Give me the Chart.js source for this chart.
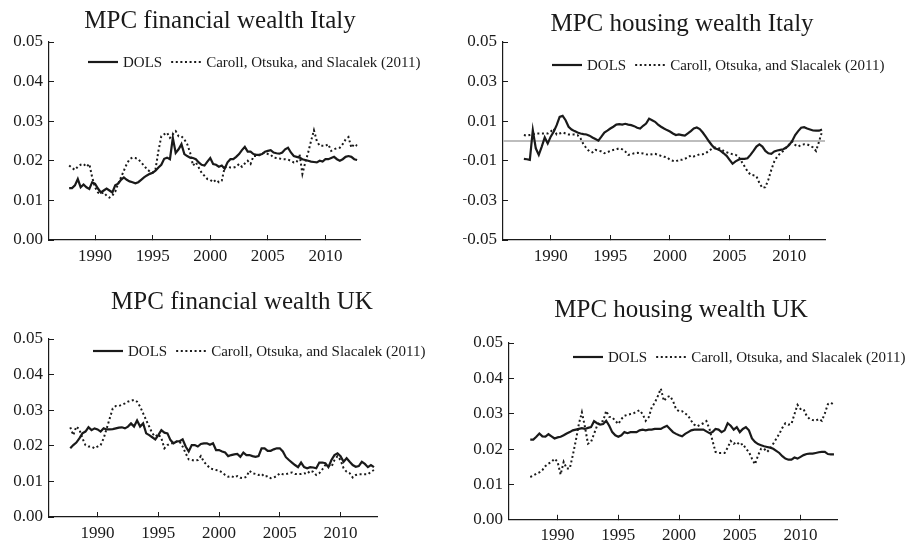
<!DOCTYPE html>
<html>
<head>
<meta charset="utf-8">
<script src="https://cdn.jsdelivr.net/npm/chart.js@4.4.0/dist/chart.umd.min.js"></script>
<style>
  body { margin: 0; background: #fff; width: 907px; height: 541px; position: relative; overflow: hidden; }
  canvas { position: absolute; }
</style>
</head>
<body>
<canvas id="finItaly" width="450" height="270" style="left:0;top:0"></canvas>
<canvas id="houseItaly" width="457" height="270" style="left:450px;top:0"></canvas>
<canvas id="finUk" width="450" height="271" style="left:0;top:270px"></canvas>
<canvas id="houseUk" width="457" height="271" style="left:450px;top:270px"></canvas>
<script>
// quarterly observations, 1987Q4 .. 2012Q4
const firstQuarter = 1987.75;
const quarterCount = 101;
const quarters = Array.from({ length: quarterCount }, (_, i) => firstQuarter + i / 4);

const yearTicks = [1990, 1995, 2000, 2005, 2010];
const shareTicks = [0, 0.01, 0.02, 0.03, 0.04, 0.05];
const housingItalyTicks = [-0.05, -0.03, -0.01, 0.01, 0.03, 0.05];
const seriesLabels = ['DOLS', 'Caroll, Otsuka, and Slacalek (2011)'];

const finItalyDols = [0.0131,
  0.0131, 0.0138, 0.0154, 0.0133,  0.0140, 0.0133, 0.0129, 0.0146,  0.0142, 0.0130, 0.0120, 0.0125,
  0.0130, 0.0125, 0.0120, 0.0138,  0.0142, 0.0152, 0.0158, 0.0152,  0.0148, 0.0146, 0.0143, 0.0146,
  0.0152, 0.0158, 0.0163, 0.0167,  0.0170, 0.0175, 0.0183, 0.0190,  0.0205, 0.0208, 0.0204, 0.0258,
  0.0220, 0.0229, 0.0242, 0.0217,  0.0212, 0.0208, 0.0207, 0.0204,  0.0196, 0.0190, 0.0188, 0.0198,
  0.0207, 0.0192, 0.0190, 0.0185,  0.0188, 0.0180, 0.0196, 0.0204,  0.0204, 0.0210, 0.0217, 0.0227,
  0.0235, 0.0223, 0.0223, 0.0217,  0.0215, 0.0215, 0.0217, 0.0223,  0.0225, 0.0227, 0.0221, 0.0219,
  0.0218, 0.0221, 0.0229, 0.0233,  0.0221, 0.0212, 0.0210, 0.0208,  0.0204, 0.0202, 0.0200, 0.0198,
  0.0197, 0.0196, 0.0200, 0.0198,  0.0204, 0.0204, 0.0207, 0.0210,  0.0204, 0.0200, 0.0204, 0.0210,
  0.0212, 0.0210, 0.0204, 0.0202];
const finItalyCos = [0.0188,
  0.0182, 0.0177, 0.0185, 0.0190,  0.0192, 0.0185, 0.0192, 0.0158,  0.0133, 0.0120, 0.0117, 0.0120,
  0.0112, 0.0107, 0.0112, 0.0122,  0.0142, 0.0158, 0.0175, 0.0192,  0.0204, 0.0208, 0.0207, 0.0204,
  0.0196, 0.0188, 0.0179, 0.0173,  0.0170, 0.0179, 0.0225, 0.0262,  0.0267, 0.0271, 0.0258, 0.0267,
  0.0275, 0.0262, 0.0262, 0.0254,  0.0242, 0.0221, 0.0188, 0.0196,  0.0183, 0.0170, 0.0162, 0.0154,
  0.0152, 0.0146, 0.0152, 0.0146,  0.0150, 0.0183, 0.0185, 0.0183,  0.0183, 0.0185, 0.0192, 0.0185,
  0.0193, 0.0200, 0.0192, 0.0212,  0.0212, 0.0214, 0.0218, 0.0221,  0.0217, 0.0215, 0.0208, 0.0207,
  0.0206, 0.0204, 0.0204, 0.0203,  0.0200, 0.0196, 0.0196, 0.0217,  0.0167, 0.0196, 0.0221, 0.0250,
  0.0277, 0.0250, 0.0238, 0.0238,  0.0238, 0.0242, 0.0225, 0.0229,  0.0232, 0.0233, 0.0242, 0.0254,
  0.0260, 0.0233, 0.0242, 0.0238];

const houseItalyDols = [-0.0090,
  -0.0092, -0.0095, 0.0055, -0.0037,  -0.0070, -0.0028, 0.0018, -0.0012,  0.0022, 0.0047, 0.0080, 0.0122,
  0.0127, 0.0105, 0.0072, 0.0058,  0.0050, 0.0043, 0.0038, 0.0035,  0.0033, 0.0027, 0.0018, 0.0010,
  0.0002, 0.0022, 0.0043, 0.0052,  0.0063, 0.0072, 0.0083, 0.0085,  0.0083, 0.0087, 0.0083, 0.0080,
  0.0075, 0.0067, 0.0063, 0.0077,  0.0088, 0.0113, 0.0105, 0.0097,  0.0083, 0.0072, 0.0063, 0.0055,
  0.0048, 0.0038, 0.0030, 0.0033,  0.0030, 0.0027, 0.0038, 0.0050,  0.0063, 0.0068, 0.0060, 0.0043,
  0.0022, 0.0000, -0.0020, -0.0037,  -0.0042, -0.0050, -0.0062, -0.0075,  -0.0095, -0.0115, -0.0103, -0.0095,
  -0.0090, -0.0090, -0.0087, -0.0070,  -0.0050, -0.0028, -0.0017, -0.0028,  -0.0050, -0.0062, -0.0065, -0.0053,
  -0.0048, -0.0045, -0.0042, -0.0033,  -0.0020, 0.0000, 0.0030, 0.0050,  0.0067, 0.0070, 0.0063, 0.0058,
  0.0053, 0.0052, 0.0052, 0.0058];
const houseItalyCos = [0.0030,
  0.0027, 0.0030, 0.0033, 0.0038,  0.0038, 0.0038, 0.0038, 0.0038,  0.0047, 0.0063, 0.0033, 0.0038,
  0.0043, 0.0038, 0.0033, 0.0033,  0.0033, 0.0030, 0.0013, -0.0017,  -0.0037, -0.0053, -0.0058, -0.0045,
  -0.0048, -0.0053, -0.0062, -0.0057,  -0.0050, -0.0045, -0.0042, -0.0037,  -0.0042, -0.0053, -0.0070, -0.0067,
  -0.0062, -0.0060, -0.0062, -0.0063,  -0.0067, -0.0070, -0.0067, -0.0065,  -0.0070, -0.0075, -0.0080, -0.0082,
  -0.0095, -0.0100, -0.0103, -0.0095,  -0.0095, -0.0090, -0.0083, -0.0073,  -0.0078, -0.0073, -0.0067, -0.0067,
  -0.0062, -0.0050, -0.0040, -0.0033,  -0.0033, -0.0040, -0.0050, -0.0057,  -0.0062, -0.0067, -0.0070, -0.0078,
  -0.0103, -0.0128, -0.0153, -0.0170,  -0.0173, -0.0178, -0.0212, -0.0237,  -0.0233, -0.0195, -0.0145, -0.0103,
  -0.0078, -0.0062, -0.0050, -0.0033,  -0.0017, -0.0003, -0.0020, -0.0028,  -0.0020, -0.0017, -0.0017, -0.0023,
  -0.0033, -0.0050, -0.0003, 0.0047];

const finUkDols = [0.0193,
  0.0202, 0.0209, 0.0221, 0.0235,  0.0240, 0.0252, 0.0244, 0.0249,  0.0246, 0.0240, 0.0249, 0.0246,
  0.0246, 0.0247, 0.0249, 0.0251,  0.0252, 0.0249, 0.0254, 0.0263,  0.0254, 0.0271, 0.0254, 0.0263,
  0.0235, 0.0230, 0.0224, 0.0218,  0.0230, 0.0244, 0.0237, 0.0235,  0.0216, 0.0207, 0.0212, 0.0213,
  0.0218, 0.0198, 0.0184, 0.0202,  0.0202, 0.0198, 0.0205, 0.0207,  0.0207, 0.0203, 0.0207, 0.0188,
  0.0188, 0.0184, 0.0181, 0.0171,  0.0174, 0.0176, 0.0177, 0.0169,  0.0181, 0.0174, 0.0174, 0.0171,
  0.0169, 0.0171, 0.0193, 0.0193,  0.0186, 0.0186, 0.0190, 0.0193,  0.0193, 0.0184, 0.0168, 0.0160,
  0.0153, 0.0146, 0.0140, 0.0153,  0.0140, 0.0137, 0.0140, 0.0139,  0.0137, 0.0153, 0.0153, 0.0151,
  0.0140, 0.0160, 0.0174, 0.0179,  0.0171, 0.0155, 0.0165, 0.0155,  0.0146, 0.0141, 0.0143, 0.0155,
  0.0149, 0.0140, 0.0146, 0.0140];
const finUkCos = [0.0252,
  0.0230, 0.0254, 0.0246, 0.0221,  0.0202, 0.0198, 0.0198, 0.0193,  0.0198, 0.0202, 0.0221, 0.0249,
  0.0277, 0.0305, 0.0312, 0.0312,  0.0315, 0.0319, 0.0324, 0.0327,  0.0329, 0.0324, 0.0310, 0.0291,
  0.0272, 0.0254, 0.0235, 0.0226,  0.0233, 0.0221, 0.0193, 0.0202,  0.0207, 0.0207, 0.0212, 0.0212,
  0.0198, 0.0179, 0.0162, 0.0160,  0.0158, 0.0160, 0.0171, 0.0155,  0.0146, 0.0137, 0.0134, 0.0132,
  0.0130, 0.0125, 0.0118, 0.0113,  0.0115, 0.0111, 0.0115, 0.0110,  0.0109, 0.0113, 0.0130, 0.0123,
  0.0121, 0.0118, 0.0121, 0.0113,  0.0115, 0.0109, 0.0111, 0.0115,  0.0123, 0.0120, 0.0120, 0.0123,
  0.0125, 0.0121, 0.0121, 0.0121,  0.0123, 0.0121, 0.0130, 0.0127,  0.0118, 0.0123, 0.0134, 0.0146,
  0.0146, 0.0141, 0.0160, 0.0171,  0.0160, 0.0137, 0.0127, 0.0123,  0.0111, 0.0118, 0.0120, 0.0120,
  0.0120, 0.0120, 0.0127, 0.0132];

const houseUkDols = [0.0227,
  0.0227, 0.0235, 0.0244, 0.0236,  0.0235, 0.0242, 0.0236, 0.0230,  0.0233, 0.0235, 0.0239, 0.0244,
  0.0248, 0.0253, 0.0255, 0.0257,  0.0259, 0.0257, 0.0260, 0.0262,  0.0279, 0.0273, 0.0269, 0.0271,
  0.0280, 0.0266, 0.0248, 0.0239,  0.0235, 0.0239, 0.0248, 0.0245,  0.0248, 0.0248, 0.0248, 0.0253,
  0.0255, 0.0253, 0.0255, 0.0255,  0.0257, 0.0257, 0.0257, 0.0262,  0.0266, 0.0257, 0.0248, 0.0243,
  0.0239, 0.0236, 0.0243, 0.0248,  0.0253, 0.0255, 0.0255, 0.0255,  0.0255, 0.0250, 0.0245, 0.0248,
  0.0257, 0.0255, 0.0248, 0.0253,  0.0273, 0.0266, 0.0255, 0.0262,  0.0248, 0.0257, 0.0262, 0.0253,
  0.0230, 0.0220, 0.0214, 0.0211,  0.0208, 0.0206, 0.0204, 0.0201,  0.0195, 0.0189, 0.0180, 0.0173,
  0.0170, 0.0170, 0.0176, 0.0173,  0.0178, 0.0183, 0.0186, 0.0187,  0.0187, 0.0189, 0.0191, 0.0192,
  0.0192, 0.0186, 0.0185, 0.0185];
const houseUkCos = [0.0121,
  0.0125, 0.0130, 0.0134, 0.0141,  0.0152, 0.0159, 0.0164, 0.0173,  0.0164, 0.0128, 0.0164, 0.0145,
  0.0145, 0.0182, 0.0224, 0.0271,  0.0304, 0.0263, 0.0215, 0.0220,  0.0243, 0.0266, 0.0276, 0.0280,
  0.0308, 0.0291, 0.0290, 0.0280,  0.0271, 0.0285, 0.0294, 0.0297,  0.0299, 0.0301, 0.0306, 0.0310,
  0.0299, 0.0280, 0.0290, 0.0318,  0.0331, 0.0350, 0.0371, 0.0336,  0.0347, 0.0350, 0.0336, 0.0313,
  0.0307, 0.0307, 0.0301, 0.0294,  0.0280, 0.0269, 0.0264, 0.0269,  0.0273, 0.0279, 0.0257, 0.0224,
  0.0192, 0.0189, 0.0189, 0.0189,  0.0204, 0.0223, 0.0215, 0.0220,  0.0211, 0.0215, 0.0201, 0.0192,
  0.0173, 0.0157, 0.0182, 0.0201,  0.0201, 0.0192, 0.0201, 0.0215,  0.0229, 0.0243, 0.0260, 0.0273,
  0.0269, 0.0271, 0.0299, 0.0325,  0.0313, 0.0313, 0.0294, 0.0285,  0.0282, 0.0280, 0.0285, 0.0280,
  0.0301, 0.0327, 0.0331, 0.0325];

const serif = '"Liberation Serif", "Times New Roman", serif';
const ink = '#1a1a1a';

// title, legend and the zero reference line, drawn in each panel
const panelDecor = {
  id: 'panelDecor',
  beforeDatasetsDraw(chart, args, opts) {
    if (!opts.zeroLine) return;
    const { ctx, chartArea } = chart;
    const y = chart.scales.y.getPixelForValue(0);
    ctx.save();
    ctx.strokeStyle = '#bdbdbd';
    ctx.lineWidth = 2;
    ctx.beginPath();
    ctx.moveTo(chartArea.left, y);
    ctx.lineTo(chartArea.right, y);
    ctx.stroke();
    ctx.restore();
  },
  afterDraw(chart, args, opts) {
    const ctx = chart.ctx;
    ctx.save();
    ctx.fillStyle = ink;
    ctx.font = `25px ${serif}`;
    ctx.textAlign = 'center';
    ctx.textBaseline = 'alphabetic';
    ctx.fillText(opts.title, opts.titleX, opts.titleY);

    ctx.font = `15px ${serif}`;
    ctx.textAlign = 'left';
    ctx.textBaseline = 'middle';
    let x = opts.legendX;
    const y = opts.legendY;
    chart.data.datasets.forEach((ds) => {
      ctx.strokeStyle = ds.borderColor;
      ctx.lineWidth = ds.borderWidth;
      ctx.setLineDash(ds.borderDash || []);
      ctx.beginPath();
      ctx.moveTo(x, y);
      ctx.lineTo(x + 30, y);
      ctx.stroke();
      ctx.setLineDash([]);
      x += 35;
      ctx.fillText(ds.label, x, y + 1);
      x += ctx.measureText(ds.label).width + 9;
    });
    ctx.restore();
  },
};

const fmtShare = (v) => (v < 0 ? '\u2212' : '') + Math.abs(v).toFixed(2);

function makePanel(id, cfg) {
  const canvas = document.getElementById(id);
  const yAxisWidth = 40;
  const xAxisHeight = 30;
  const area = cfg.area;
  return new Chart(canvas, {
    type: 'line',
    data: {
      datasets: [
        {
          label: seriesLabels[0],
          data: quarters.map((q, i) => ({ x: q, y: cfg.dols[i] })),
          borderColor: ink,
          borderWidth: 2.2,
          pointRadius: 0,
          tension: 0,
        },
        {
          label: seriesLabels[1],
          data: quarters.map((q, i) => ({ x: q, y: cfg.cos[i] })),
          borderColor: ink,
          borderWidth: 2,
          borderDash: [2, 2.6],
          pointRadius: 0,
          tension: 0,
        },
      ],
    },
    options: {
      responsive: false,
      animation: false,
      events: [],
      layout: {
        padding: {
          left: area.left - yAxisWidth,
          right: canvas.width - area.right,
          top: area.top,
          bottom: canvas.height - area.bottom - xAxisHeight,
        },
      },
      plugins: {
        legend: { display: false },
        title: { display: false },
        tooltip: { enabled: false },
        panelDecor: cfg.decor,
      },
      scales: {
        x: {
          type: 'linear',
          min: 1986,
          max: 2013,
          afterFit: (s) => { s.height = xAxisHeight; },
          afterBuildTicks: (s) => { s.ticks = yearTicks.map((v) => ({ value: v })); },
          grid: { drawOnChartArea: false, drawTicks: true, tickLength: -5, color: ink },
          border: { display: true, color: ink, width: 1.2 },
          ticks: {
            color: ink,
            padding: 11,
            maxRotation: 0,
            font: { family: serif, size: 17 },
            callback: (v) => String(v),
          },
        },
        y: {
          type: 'linear',
          min: cfg.yTicks[0],
          max: cfg.yTicks[cfg.yTicks.length - 1],
          afterFit: (s) => { s.width = yAxisWidth; },
          afterBuildTicks: (s) => { s.ticks = cfg.yTicks.map((v) => ({ value: v })); },
          grid: { drawOnChartArea: false, drawTicks: true, tickLength: -5, color: ink },
          border: { display: true, color: ink, width: 1.2 },
          ticks: {
            color: ink,
            padding: 11,
            font: { family: serif, size: 17 },
            callback: (v) => fmtShare(v),
          },
        },
      },
    },
    plugins: [panelDecor],
  });
}

makePanel('finItaly', {
  dols: finItalyDols, cos: finItalyCos, yTicks: shareTicks,
  area: { left: 49, right: 360, top: 42, bottom: 240 },
  decor: { title: 'MPC financial wealth Italy', titleX: 220, titleY: 28, legendX: 88, legendY: 62 },
});
makePanel('houseItaly', {
  dols: houseItalyDols, cos: houseItalyCos, yTicks: housingItalyTicks,
  area: { left: 53, right: 375, top: 42, bottom: 240 },
  decor: { title: 'MPC housing wealth Italy', titleX: 232, titleY: 31, legendX: 102, legendY: 65, zeroLine: true },
});
makePanel('finUk', {
  dols: finUkDols, cos: finUkCos, yTicks: shareTicks,
  area: { left: 49, right: 377, top: 69, bottom: 247 },
  decor: { title: 'MPC financial wealth UK', titleX: 242, titleY: 39, legendX: 93, legendY: 81 },
});
makePanel('houseUk', {
  dols: houseUkDols, cos: houseUkCos, yTicks: shareTicks,
  area: { left: 59, right: 387, top: 73, bottom: 252 },
  decor: { title: 'MPC housing wealth UK', titleX: 231, titleY: 47, legendX: 123, legendY: 87 },
});
</script>
</body>
</html>
